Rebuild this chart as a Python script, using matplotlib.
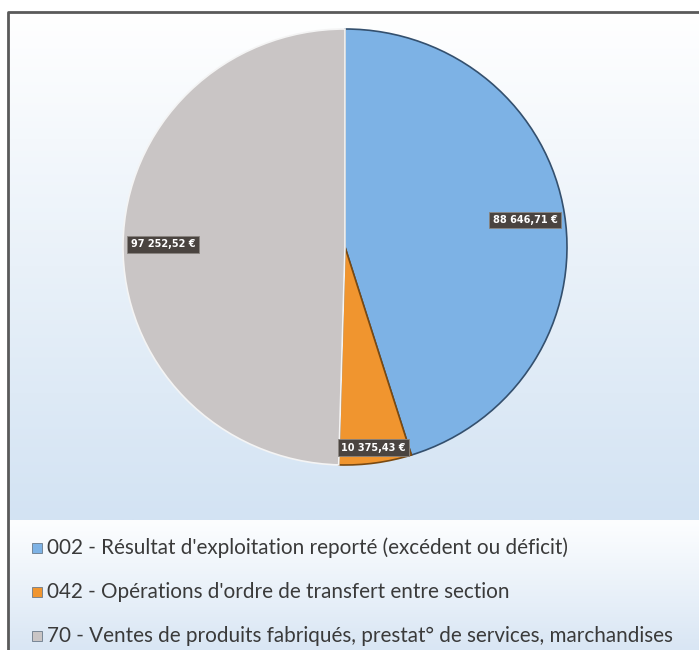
import numpy as np
import matplotlib
matplotlib.use("Agg")
import matplotlib.pyplot as plt
from matplotlib.patches import Rectangle

# data
labels = ["002 - Résultat d'exploitation reporté (excédent ou déficit)",
          "042 - Opérations d'ordre de transfert entre section",
          "70 - Ventes de produits fabriqués, prestat° de services, marchandises"]
values = [88646.71, 10375.43, 97252.52]
colors = ["#7db2e5", "#f0952f", "#c9c5c5"]
edge_colors = ["#34506e", "#7a4a12", "#f4f4f4"]
label_dist = [0.82, 0.93, 0.82]

W, H = 699, 650
fig = plt.figure(figsize=(W / 100, H / 100), dpi=100)

def px_box(x0, y0, x1, y1):
    # pixel box (top-left origin) -> figure fraction rect
    return [x0 / W, 1 - y1 / H, (x1 - x0) / W, (y1 - y0) / H]

def gradient(rect, c_top, c_bot):
    ax = fig.add_axes(rect, zorder=0)
    t = np.linspace(0, 1, 256)[:, None]
    top = np.array(matplotlib.colors.to_rgb(c_top))
    bot = np.array(matplotlib.colors.to_rgb(c_bot))
    img = top[None, None, :] * (1 - t[..., None]) + bot[None, None, :] * t[..., None]
    ax.imshow(img, aspect="auto", extent=[0, 1, 0, 1])
    ax.axis("off")
    return ax

# plot area and legend area backgrounds
gradient(px_box(8, 12, W, 520), "#ffffff", "#d3e3f3")
gradient(px_box(8, 520, W, H), "#fdfeff", "#d9e6f4")

# frame (cut off at right and bottom)
frame = fig.add_axes([0, 0, 1, 1], zorder=5)
frame.set_xlim(0, W)
frame.set_ylim(H, 0)
frame.axis("off")
frame.plot([8, 8, W + 5], [H + 5, 12, 12], color="#5a5a5a", lw=2, solid_capstyle="butt")

# pie
ax = fig.add_axes(px_box(123, 29, 567, 465), zorder=2)
wedges, _ = ax.pie(values, colors=colors, startangle=90, counterclock=False,
                   radius=1, wedgeprops=dict(linewidth=1.2))
for w, ec in zip(wedges, edge_colors):
    w.set_edgecolor(ec)
ax.set_aspect("auto")
ax.set_xlim(-1, 1)
ax.set_ylim(-1, 1)
ax.axis("off")

for w, v, d in zip(wedges, values, label_dist):
    ang = np.deg2rad((w.theta1 + w.theta2) / 2)
    txt = f"{v:,.2f}".replace(",", " ").replace(".", ",") + " €"
    ax.text(d * np.cos(ang), d * np.sin(ang), txt, ha="center", va="center",
            color="white", fontsize=7, fontweight="bold", family="DejaVu Sans",
            bbox=dict(boxstyle="square,pad=0.35", facecolor="#4a4440",
                      edgecolor="#8a8580", linewidth=0.6))

# legend
leg_y = [548, 592, 636]
for lab, c, y in zip(labels, colors, leg_y):
    frame.add_patch(Rectangle((32, y - 5), 10, 10, facecolor=c, edgecolor="#6a7a8a", lw=0.6))
    frame.text(47, y, lab, ha="left", va="center", fontsize=14.9, color="#3a3a3a",
               family="Lato")

fig.savefig("out.png", dpi=100)
